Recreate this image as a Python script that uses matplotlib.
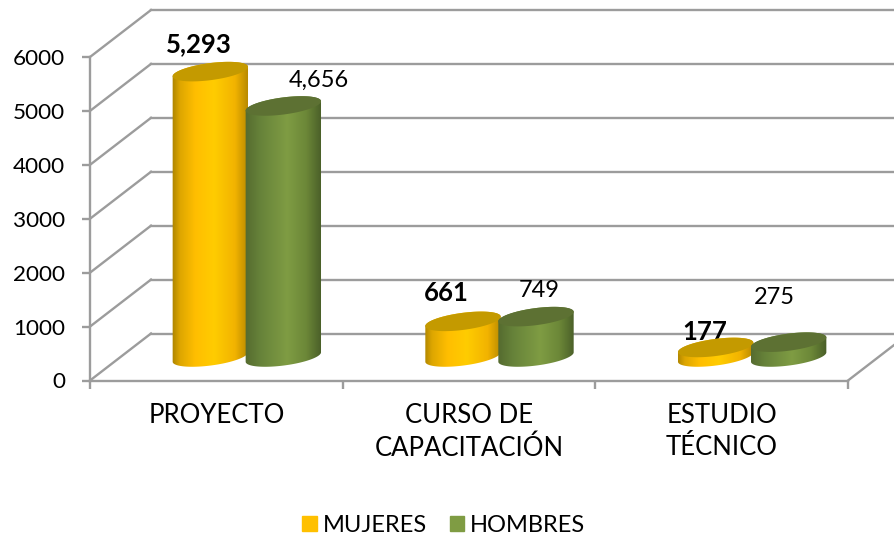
#! /usr/bin/env python3

import numpy as np
import matplotlib
matplotlib.use("Agg")
import matplotlib.pyplot as plt
from matplotlib.colors import LinearSegmentedColormap
from matplotlib.patches import Patch, Polygon

categories = ["PROYECTO", "CURSO DE\nCAPACITACIÓN", "ESTUDIO\nTÉCNICO"]
mujeres = [5293, 661, 177]
hombres = [4656, 749, 275]
yticks = [0, 1000, 2000, 3000, 4000, 5000, 6000]

plt.rcParams["font.family"] = ["Lato", "DejaVu Sans"]

W, H = 894, 536
fig = plt.figure(figsize=(W / 100, H / 100), dpi=100)
left, right, bottom, top = 90, 848, 380.5, 57
ax = fig.add_axes([left / W, 1 - bottom / H, (right - left) / W, (bottom - top) / H])

GRID = "#9c9c9c"
LW = 1.7
xlim = (-0.5, 2.5)
ylim = (0, 6000)

# pixels to data units
px_x = (xlim[1] - xlim[0]) / (right - left)
px_y = (ylim[1] - ylim[0]) / (bottom - top)
depth_x, depth_y = 61 * px_x, 47 * px_y

# walls and floor
for v in yticks:
    ax.plot([xlim[0], xlim[0] + depth_x], [v, v + depth_y], color=GRID, lw=LW, clip_on=False, zorder=1)
    ax.plot([xlim[0] + depth_x, xlim[1] + depth_x], [v + depth_y, v + depth_y], color=GRID, lw=LW, clip_on=False, zorder=1)
ax.plot([xlim[1], xlim[1] + depth_x], [0, depth_y], color=GRID, lw=LW, clip_on=False, zorder=1)

gold = LinearSegmentedColormap.from_list("gold", [(0, "#AD8400"), (0.1, "#DDA600"), (0.3, "#FFBE00"),
                                                  (0.55, "#FFCC00"), (0.82, "#F2B300"), (1, "#B58800")])
green = LinearSegmentedColormap.from_list("green", [(0, "#556B2F"), (0.2, "#67833A"), (0.55, "#7F9C43"),
                                                    (0.8, "#6C8738"), (1, "#495E28")])


def ellipse(cx, cy, t):
    a, b, r = 38, 8.5, np.radians(7.5)
    dx = a * np.cos(t) * np.cos(r) - b * np.sin(t) * np.sin(r)
    dy = a * np.cos(t) * np.sin(r) + b * np.sin(t) * np.cos(r)
    return np.column_stack([cx + dx * px_x, cy + dy * px_y])


def cylinder(x, value, cmap, top_color):
    x = x + depth_x / 2
    base = depth_y / 2
    lower = ellipse(x, base, np.linspace(np.pi, 2 * np.pi, 60))
    upper = ellipse(x, base + value, np.linspace(0, np.pi, 60))
    body = Polygon(np.vstack([lower, upper]), closed=True, transform=ax.transData, fc="none", ec="none")
    ax.add_patch(body)
    img = ax.imshow(np.linspace(0, 1, 200).reshape(1, -1), cmap=cmap, aspect="auto", zorder=3,
                    extent=[x - 38.5 * px_x, x + 38.5 * px_x, base - 12 * px_y, base + value + 12 * px_y])
    img.set_clip_path(body)
    cap = ellipse(x, base + value, np.linspace(0, 2 * np.pi, 120))
    ax.add_patch(Polygon(cap, closed=True, fc=top_color, ec="none", zorder=3))


width = 36.5 * px_x
for i in range(len(categories)):
    cylinder(i - width, mujeres[i], gold, "#C49A00")
    cylinder(i + width, hombres[i], green, "#5D7133")

# value labels, offset from the top of each cylinder in pixels
m_off = [(-11, 27), (-17, 28), (-11, 15)]
h_off = [(36, 26), (3, 26), (-14, 45)]
for i in range(len(categories)):
    ax.annotate(f"{mujeres[i]:,}", (i - width + depth_x / 2, mujeres[i] + depth_y / 2),
                xytext=(m_off[i][0] * 0.72, m_off[i][1] * 0.72), textcoords="offset points",
                ha="center", va="center", fontsize=18.5, fontweight="bold", color="black",
                annotation_clip=False, zorder=2)
    ax.annotate(f"{hombres[i]:,}", (i + width + depth_x / 2, hombres[i] + depth_y / 2),
                xytext=(h_off[i][0] * 0.72, h_off[i][1] * 0.72), textcoords="offset points",
                ha="center", va="center", fontsize=17, color="black",
                annotation_clip=False, zorder=2)

ax.set_xlim(xlim)
ax.set_ylim(ylim)
ax.set_yticks(yticks)
ax.set_xticks(range(len(categories)))
ax.set_xticklabels(categories, fontsize=18.5, linespacing=1.35)
ax.set_xticks([-0.5, 0.5, 1.5, 2.5], minor=True)
ax.tick_params(axis="x", which="major", length=0, pad=16.5)
ax.tick_params(axis="x", which="minor", length=6, width=LW, color=GRID)
ax.tick_params(axis="y", length=6, width=LW, color=GRID, pad=12, labelsize=16.2)
ax.patch.set_visible(False)
for s in ["top", "right"]:
    ax.spines[s].set_visible(False)
for s in ["left", "bottom"]:
    ax.spines[s].set_color(GRID)
    ax.spines[s].set_linewidth(LW)

handles = [Patch(color="#FFC000", label="MUJERES"), Patch(color="#7F9C43", label="HOMBRES")]
fig.legend(handles=handles, loc="center", bbox_to_anchor=(444 / W, 1 - 525 / H), ncol=2, frameon=False,
           fontsize=17, handlelength=0.6, handleheight=0.6, handletextpad=0.25, columnspacing=1.0,
           borderpad=0)

plt.savefig("out.png", dpi=100, facecolor="white")
plt.close()
